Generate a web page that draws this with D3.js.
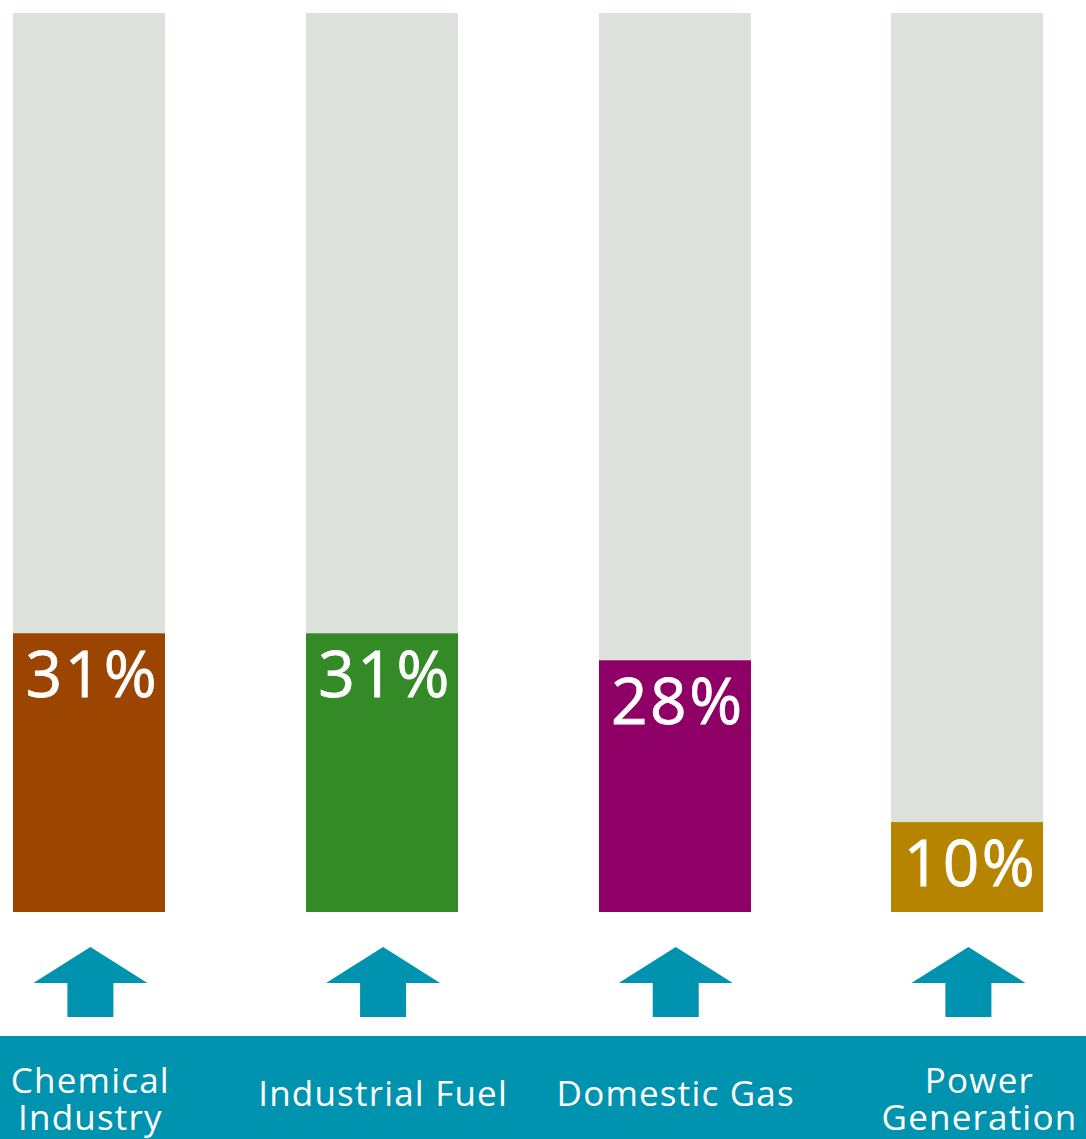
<!DOCTYPE html>
<html><head><meta charset="utf-8">
<script src="https://cdn.jsdelivr.net/npm/d3@7"></script>
<style>html,body{margin:0;padding:0;background:#fff;}svg{display:block;}</style>
</head><body>
<script>
const categories = ["Chemical Industry", "Industrial Fuel", "Domestic Gas", "Power Generation"];
const labelLines = [["Chemical", "Industry"], ["Industrial Fuel"], ["Domestic Gas"], ["Power", "Generation"]];
const values = [31, 31, 28, 10];
const valueLabels = ["31%", "31%", "28%", "10%"];
const total = 100;
const barColors = ["#9C4500", "#348A26", "#8E0065", "#B78400"];

const W = 1086, H = 1139;
const svg = d3.select("body").append("svg").attr("width", W).attr("height", H);
const font = "'Open Sans', 'Noto Sans', sans-serif";
const teal = "#0093B0";

const step = 292.67, bw = 152, p = 1 - bw / step;
const x0 = 13.4 - (step - bw) / 2;
const x = d3.scaleBand().domain(categories).range([x0, x0 + 4 * step]).paddingInner(p).paddingOuter(p / 2);
const y = d3.scaleLinear().domain([0, total]).range([912, 13]);

const g = svg.selectAll("g.bar").data(categories).join("g").attr("class", "bar");
g.append("rect").attr("x", d => Math.round(x(d))).attr("width", x.bandwidth())
  .attr("y", y(total)).attr("height", y(0) - y(total)).attr("fill", "#DDE1DC");
g.append("rect").attr("x", d => Math.round(x(d))).attr("width", x.bandwidth())
  .attr("y", (d, i) => y(values[i])).attr("height", (d, i) => y(0) - y(values[i]))
  .attr("fill", (d, i) => barColors[i]);
g.append("text").attr("x", d => x(d) + x.bandwidth() / 2 + 3)
  .attr("y", (d, i) => y(values[i]) + 64)
  .attr("text-anchor", "middle").attr("fill", "#fff")
  .style("font-family", font).style("font-size", "64px").style("font-weight", "400")
  .style("stroke", "#fff").style("stroke-width", "0.8px").style("letter-spacing", "2.5px")
  .text((d, i) => valueLabels[i]);

// arrows
g.append("path").attr("fill", teal).attr("d", d => {
  const c = x(d) + x.bandwidth() / 2 + 1;
  return `M${c},947 L${c + 57},983 L${c + 23},983 L${c + 23},1017 L${c - 23},1017 L${c - 23},983 L${c - 57},983 Z`;
});

// bottom band
svg.append("rect").attr("x", 0).attr("y", 1036).attr("width", W).attr("height", H - 1036).attr("fill", teal);

categories.forEach((d, i) => {
  const lines = labelLines[i];
  const cx = x(d) + x.bandwidth() / 2 + (i === 3 ? 12 : 1);
  const t = svg.append("text").attr("text-anchor", "middle").attr("fill", "#fff")
    .style("font-family", font).style("font-size", "35px").style("letter-spacing", "1.2px");
  if (lines.length === 1) {
    t.append("tspan").attr("x", cx).attr("y", 1106).text(lines[0]);
  } else {
    lines.forEach((l, j) => t.append("tspan").attr("x", cx).attr("y", 1093 + j * 37).text(l));
  }
});
</script>
</body></html>
